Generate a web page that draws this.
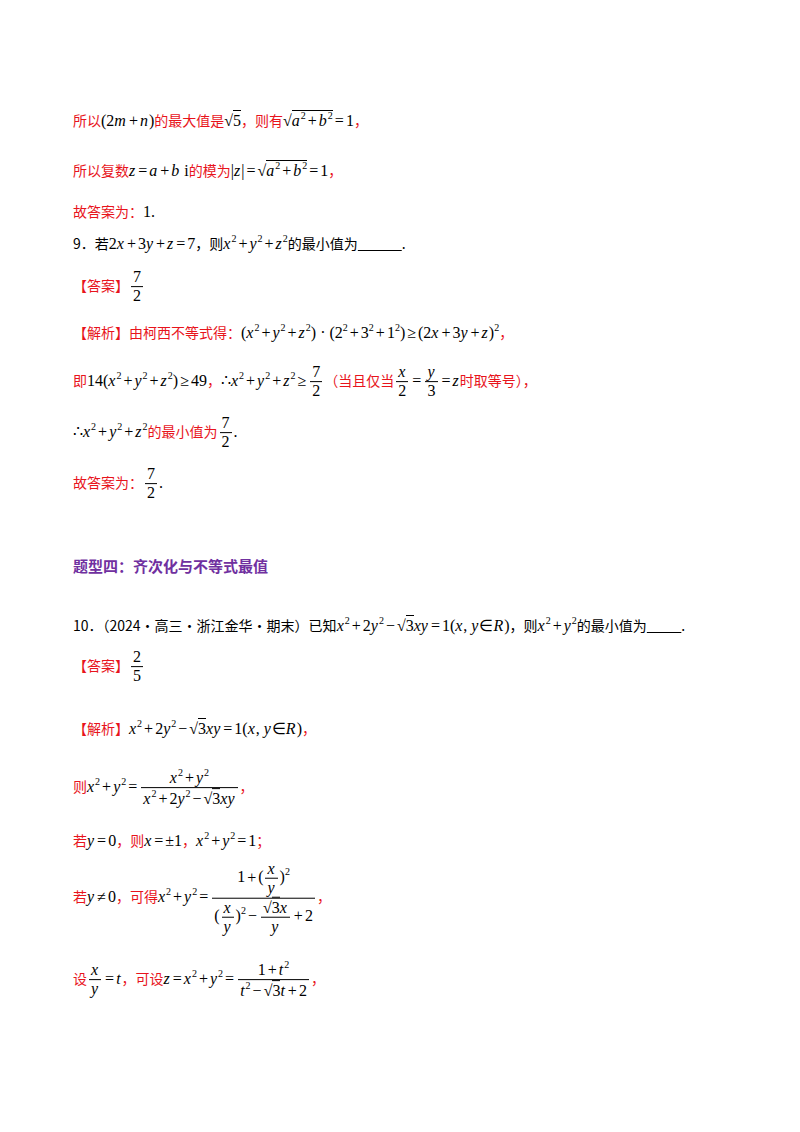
<!DOCTYPE html>
<html><head><meta charset="utf-8">
<script src="https://cdn.jsdelivr.net/npm/chart.js"></script>
<style>
body{margin:0;width:800px;height:1132px;background:#fff;position:relative;font-family:"Noto Sans CJK SC",sans-serif;font-size:14px;color:#000}
.l{position:absolute;left:73px;white-space:nowrap;transform:translateY(-50%);line-height:1}
.r{color:#e8141c}
.m{font-family:"Liberation Serif",serif;font-size:16px}
i{font-family:"Liberation Serif",serif;font-size:16px;margin-right:1px}
sup{font-size:10px;vertical-align:7px;font-style:normal}
.f{display:inline-block;vertical-align:middle;text-align:center;font-family:"Liberation Serif",serif;font-size:16px;margin:0 2px}
.f>span{display:block;padding:0 2px;line-height:1.15}
.f>span:first-child{border-bottom:1px solid #000}
.h{color:#7030a0;font-weight:bold;font-size:15px}
.sq{border-top:1px solid #000;padding-top:1px}
.op{margin:0 2px}
</style></head><body>
<script>
const F=(n,d)=>`<span class="f"><span>${n}</span><span>${d}</span></span>`;
const S=x=>`√<span class="sq">${x}</span>`;
const lines=[
 [120,`<span class="r">所以</span><span class="m">(2<i>m</i>+<i>n</i>)</span><span class="r">的最大值是</span><span class="m">${S('5')}</span><span class="r">，则有</span><span class="m">${S('<i>a</i><sup>2</sup>+<i>b</i><sup>2</sup>')}=1</span><span class="r">，</span>`],
 [170,`<span class="r">所以复数</span><span class="m"><i>z</i>=<i>a</i>+<i>b</i> i</span><span class="r">的模为</span><span class="m">|<i>z</i>|=${S('<i>a</i><sup>2</sup>+<i>b</i><sup>2</sup>')}=1</span><span class="r">，</span>`],
 [212,`<span class="r">故答案为：</span><span class="m">1.</span>`],
 [243,`9．若<span class="m">2<i>x</i>+3<i>y</i>+<i>z</i>=7</span>，则<span class="m"><i>x</i><sup>2</sup>+<i>y</i><sup>2</sup>+<i>z</i><sup>2</sup></span>的最小值为<u>&nbsp;&nbsp;&nbsp;&nbsp;&nbsp;&nbsp;&nbsp;&nbsp;&nbsp;&nbsp;&nbsp;&nbsp;&nbsp;&nbsp;</u>.`],
 [287,`<span class="r">【答案】</span>${F('7','2')}`],
 [332,`<span class="r">【解析】由柯西不等式得：</span><span class="m">(<i>x</i><sup>2</sup>+<i>y</i><sup>2</sup>+<i>z</i><sup>2</sup>) · (2<sup>2</sup>+3<sup>2</sup>+1<sup>2</sup>)≥(2<i>x</i>+3<i>y</i>+<i>z</i>)<sup>2</sup></span><span class="r">，</span>`],
 [382,`<span class="r">即</span><span class="m">14(<i>x</i><sup>2</sup>+<i>y</i><sup>2</sup>+<i>z</i><sup>2</sup>)≥49</span><span class="r">，</span><span class="m">∴<i>x</i><sup>2</sup>+<i>y</i><sup>2</sup>+<i>z</i><sup>2</sup>≥</span>${F('7','2')}<span class="r">（当且仅当</span>${F('<i>x</i>','2')}<span class="m">=</span>${F('<i>y</i>','3')}<span class="m">=<i>z</i></span><span class="r">时取等号），</span>`],
 [433,`<span class="m">∴<i>x</i><sup>2</sup>+<i>y</i><sup>2</sup>+<i>z</i><sup>2</sup></span><span class="r">的最小值为</span>${F('7','2')}<span class="m">.</span>`],
 [484,`<span class="r">故答案为：</span>${F('7','2')}<span class="m">.</span>`],
 [565,`<span class="h">题型四：齐次化与不等式最值</span>`],
 [625,`10．（2024·高三·浙江金华·期末）已知<span class="m"><i>x</i><sup>2</sup>+2<i>y</i><sup>2</sup>−${S('3')}<i>xy</i>=1(<i>x</i>, <i>y</i>∈<i>R</i>)</span>，则<span class="m"><i>x</i><sup>2</sup>+<i>y</i><sup>2</sup></span>的最小值为<u>&nbsp;&nbsp;&nbsp;&nbsp;&nbsp;&nbsp;&nbsp;&nbsp;&nbsp;&nbsp;&nbsp;</u>.`],
 [667,`<span class="r">【答案】</span>${F('2','5')}`],
 [728,`<span class="r">【解析】</span><span class="m"><i>x</i><sup>2</sup>+2<i>y</i><sup>2</sup>−${S('3')}<i>xy</i>=1(<i>x</i>, <i>y</i>∈<i>R</i>)</span><span class="r">，</span>`],
 [788,`<span class="r">则</span><span class="m"><i>x</i><sup>2</sup>+<i>y</i><sup>2</sup>=</span>${F('<i>x</i><sup>2</sup>+<i>y</i><sup>2</sup>','<i>x</i><sup>2</sup>+2<i>y</i><sup>2</sup>−'+S('3')+'<i>xy</i>')}<span class="r">，</span>`],
 [840,`<span class="r">若</span><span class="m"><i>y</i>=0</span><span class="r">，则</span><span class="m"><i>x</i>=±1</span><span class="r">，</span><span class="m"><i>x</i><sup>2</sup>+<i>y</i><sup>2</sup>=1</span><span class="r">；</span>`],
 [898,`<span class="r">若</span><span class="m"><i>y</i>≠0</span><span class="r">，可得</span><span class="m"><i>x</i><sup>2</sup>+<i>y</i><sup>2</sup>=</span>${F('1+('+F('<i>x</i>','<i>y</i>')+')<sup>2</sup>','('+F('<i>x</i>','<i>y</i>')+')<sup>2</sup>−'+F(S('3')+'<i>x</i>','<i>y</i>')+'+2')}<span class="r">，</span>`],
 [980,`<span class="r">设</span>${F('<i>x</i>','<i>y</i>')}<span class="m">=<i>t</i></span><span class="r">，可设</span><span class="m"><i>z</i>=<i>x</i><sup>2</sup>+<i>y</i><sup>2</sup>=</span>${F('1+<i>t</i><sup>2</sup>','<i>t</i><sup>2</sup>−'+S('3')+'<i>t</i>+2')}<span class="r">，</span>`]
];
const pad=h=>h.replace(/>([^<]*)</g,(m,t)=>'>'+t.replace(/([+=−≥≠])/g,'<span class="op">$1</span>')+'<');
for(const [y,h] of lines){const d=document.createElement('div');d.className='l';d.style.top=y+'px';d.innerHTML=pad(h);document.body.appendChild(d);}
</script>
</body></html>
